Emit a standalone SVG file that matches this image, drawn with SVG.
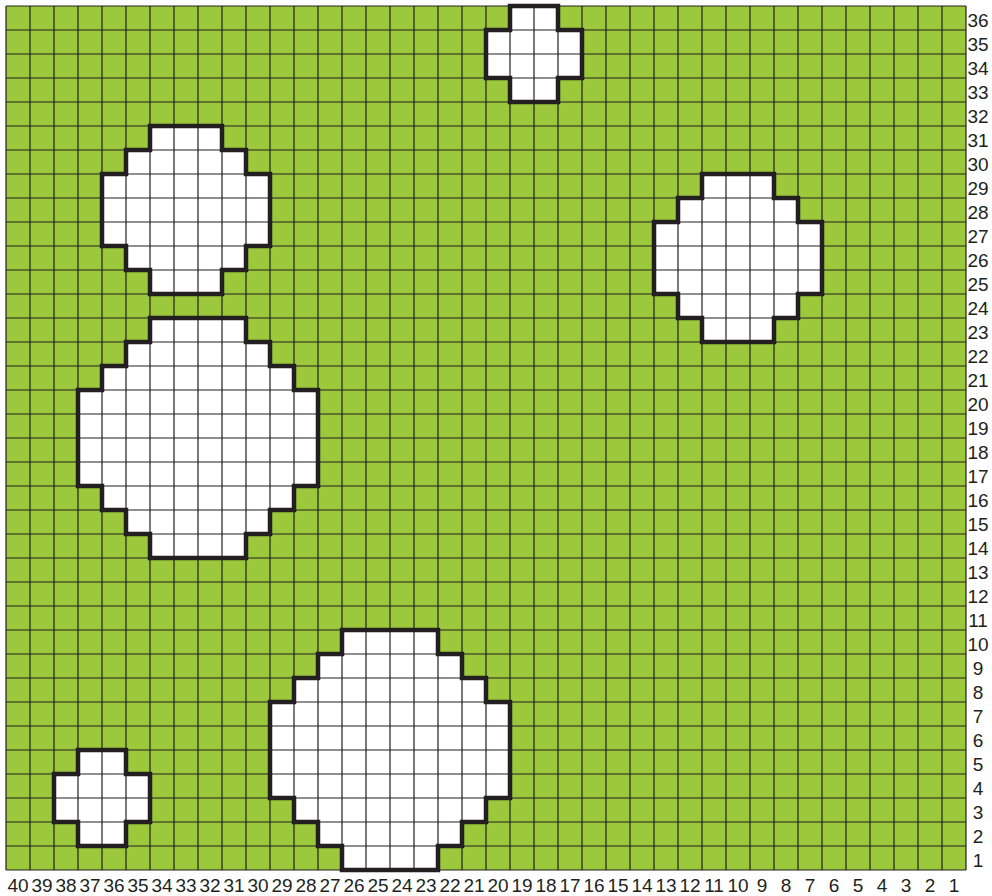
<svg xmlns="http://www.w3.org/2000/svg" width="992" height="896" viewBox="0 0 992 896">
<style>
.hole{fill:#ffffff;stroke:none}
.outline{fill:none;stroke:#231f20;stroke-width:4.5;stroke-linejoin:miter}
.grid{fill:none;stroke:#231f20;stroke-width:1.2}
.lbl{font-family:"Liberation Sans",Arial,sans-serif;font-size:19px;fill:#231f20;text-anchor:middle}
</style>
<defs>
<path id="s1" d="M150 126H222V150H246V174H270V246H246V270H222V294H150V270H126V246H102V174H126V150H150Z"/>
<path id="s2" d="M510 6H558V30H582V78H558V102H510V78H486V30H510Z"/>
<path id="s3" d="M702 174H774V198H798V222H822V294H798V318H774V342H702V318H678V294H654V222H678V198H702Z"/>
<path id="s4" d="M150 318H246V342H270V366H294V390H318V486H294V510H270V534H246V558H150V534H126V510H102V486H78V390H102V366H126V342H150Z"/>
<path id="s5" d="M342 630H438V654H462V678H486V702H510V798H486V822H462V846H438V870H342V846H318V822H294V798H270V702H294V678H318V654H342Z"/>
<path id="s6" d="M78 750H126V774H150V822H126V846H78V822H54V774H78Z"/>
</defs>
<rect x="6" y="6" width="960" height="864" fill="#9bc93b"/>
<g id="holes-fill">
<use href="#s1" class="hole"/>
<use href="#s2" class="hole"/>
<use href="#s3" class="hole"/>
<use href="#s4" class="hole"/>
<use href="#s5" class="hole"/>
<use href="#s6" class="hole"/>
</g>
<g id="grid">
<path class="grid" d="M6 6V870M30 6V870M54 6V870M78 6V870M102 6V870M126 6V870M150 6V870M174 6V870M198 6V870M222 6V870M246 6V870M270 6V870M294 6V870M318 6V870M342 6V870M366 6V870M390 6V870M414 6V870M438 6V870M462 6V870M486 6V870M510 6V870M534 6V870M558 6V870M582 6V870M606 6V870M630 6V870M654 6V870M678 6V870M702 6V870M726 6V870M750 6V870M774 6V870M798 6V870M822 6V870M846 6V870M870 6V870M894 6V870M918 6V870M942 6V870M966 6V870"/>
<path class="grid" d="M6 6H966M6 30H966M6 54H966M6 78H966M6 102H966M6 126H966M6 150H966M6 174H966M6 198H966M6 222H966M6 246H966M6 270H966M6 294H966M6 318H966M6 342H966M6 366H966M6 390H966M6 414H966M6 438H966M6 462H966M6 486H966M6 510H966M6 534H966M6 558H966M6 582H966M6 606H966M6 630H966M6 654H966M6 678H966M6 702H966M6 726H966M6 750H966M6 774H966M6 798H966M6 822H966M6 846H966M6 870H966"/>
</g>
<g id="hole-1"><use href="#s1" class="outline"/></g>
<g id="hole-2"><use href="#s2" class="outline"/></g>
<g id="hole-3"><use href="#s3" class="outline"/></g>
<g id="hole-4"><use href="#s4" class="outline"/></g>
<g id="hole-5"><use href="#s5" class="outline"/></g>
<g id="hole-6"><use href="#s6" class="outline"/></g>
<g id="col-labels" class="lbl">
<text x="18" y="892">40</text><text x="42" y="892">39</text><text x="66" y="892">38</text><text x="90" y="892">37</text><text x="114" y="892">36</text><text x="138" y="892">35</text><text x="162" y="892">34</text><text x="186" y="892">33</text><text x="210" y="892">32</text><text x="234" y="892">31</text><text x="258" y="892">30</text><text x="282" y="892">29</text><text x="306" y="892">28</text><text x="330" y="892">27</text><text x="354" y="892">26</text><text x="378" y="892">25</text><text x="402" y="892">24</text><text x="426" y="892">23</text><text x="450" y="892">22</text><text x="474" y="892">21</text><text x="498" y="892">20</text><text x="522" y="892">19</text><text x="546" y="892">18</text><text x="570" y="892">17</text><text x="594" y="892">16</text><text x="618" y="892">15</text><text x="642" y="892">14</text><text x="666" y="892">13</text><text x="690" y="892">12</text><text x="714" y="892">11</text><text x="738" y="892">10</text><text x="762" y="892">9</text><text x="786" y="892">8</text><text x="810" y="892">7</text><text x="834" y="892">6</text><text x="858" y="892">5</text><text x="882" y="892">4</text><text x="906" y="892">3</text><text x="930" y="892">2</text><text x="954" y="892">1</text>
</g>
<g id="row-labels" class="lbl">
<text x="978" y="27">36</text><text x="978" y="51">35</text><text x="978" y="75">34</text><text x="978" y="99">33</text><text x="978" y="123">32</text><text x="978" y="147">31</text><text x="978" y="171">30</text><text x="978" y="195">29</text><text x="978" y="219">28</text><text x="978" y="243">27</text><text x="978" y="267">26</text><text x="978" y="291">25</text><text x="978" y="315">24</text><text x="978" y="339">23</text><text x="978" y="363">22</text><text x="978" y="387">21</text><text x="978" y="411">20</text><text x="978" y="435">19</text><text x="978" y="459">18</text><text x="978" y="483">17</text><text x="978" y="507">16</text><text x="978" y="531">15</text><text x="978" y="555">14</text><text x="978" y="579">13</text><text x="978" y="603">12</text><text x="978" y="627">11</text><text x="978" y="651">10</text><text x="978" y="675">9</text><text x="978" y="699">8</text><text x="978" y="723">7</text><text x="978" y="747">6</text><text x="978" y="771">5</text><text x="978" y="795">4</text><text x="978" y="819">3</text><text x="978" y="843">2</text><text x="978" y="867">1</text>
</g>
</svg>
